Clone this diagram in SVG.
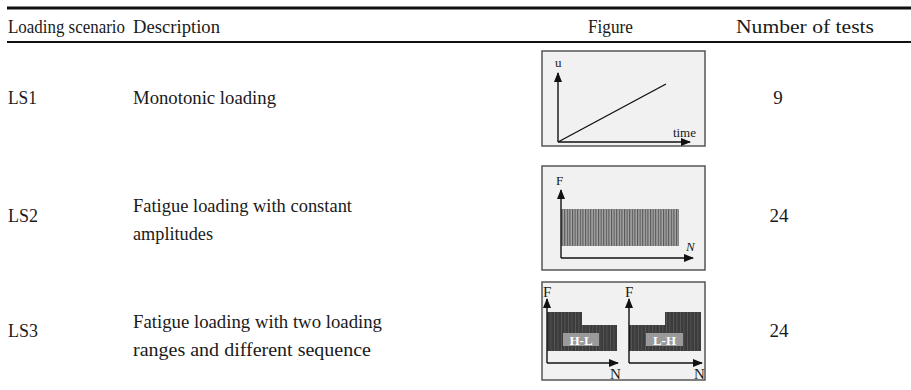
<svg xmlns="http://www.w3.org/2000/svg" width="911" height="390" viewBox="0 0 911 390">
<defs>
<style>
text{font-family:"Liberation Serif","Times New Roman","DejaVu Serif",serif}
.t{font-size:19px;fill:#1a1a1a}
.s{font-size:13px;fill:#1a1a1a}
.m{font-size:15px;fill:#1a1a1a}
.box{fill:#f0f1f0;stroke:#555;stroke-width:1.5}
.ax{stroke:#111;stroke-width:1.4;fill:none}
.lab{font-size:13px;font-weight:bold;fill:#fff}
</style>
<marker id="ah" viewBox="0 0 10 8" refX="9" refY="4" markerWidth="10" markerHeight="8" markerUnits="userSpaceOnUse" orient="auto">
<path d="M0,0 L10,4 L0,8 Z" fill="#111"/>
</marker>
<pattern id="fat" width="2.6" height="10" patternUnits="userSpaceOnUse">
<rect width="2.6" height="10" fill="#a6a6a6"/>
<rect width="1.1" height="10" fill="#555"/>
</pattern>
<pattern id="fat2" width="7" height="10" patternUnits="userSpaceOnUse">
<rect width="7" height="10" fill="#3c3c3c"/>
<rect x="1" width="1" height="10" fill="#555"/>
<rect x="4" width="1.5" height="10" fill="#4a4a4a"/>
</pattern>
</defs>
<rect width="911" height="390" fill="#fff"/>
<line x1="7" y1="8" x2="911" y2="8" stroke="#111" stroke-width="3"/>
<line x1="7" y1="42" x2="911" y2="42" stroke="#111" stroke-width="2"/>
<g id="header">
<text class="t" x="8" y="33" textLength="117" lengthAdjust="spacingAndGlyphs">Loading scenario</text>
<text class="t" x="133" y="33" textLength="87" lengthAdjust="spacingAndGlyphs">Description</text>
<text class="t" x="588" y="33" textLength="45" lengthAdjust="spacingAndGlyphs">Figure</text>
<text class="t" x="736" y="33" textLength="138" lengthAdjust="spacingAndGlyphs">Number of tests</text>
</g>
<g id="row1">
<text class="t" x="8" y="104" textLength="29" lengthAdjust="spacingAndGlyphs">LS1</text>
<text class="t" x="133" y="104" textLength="143" lengthAdjust="spacingAndGlyphs">Monotonic loading</text>
<text class="t" x="778" y="104" text-anchor="middle">9</text>
<g id="fig1">
<rect class="box" x="542" y="51" width="163" height="95"/>
<line class="ax" x1="558" y1="142" x2="558" y2="73" marker-end="url(#ah)"/>
<line class="ax" x1="558" y1="142" x2="690" y2="142" marker-end="url(#ah)"/>
<line class="ax" x1="558" y1="142" x2="666" y2="84"/>
<text class="s" x="555" y="67">u</text>
<text class="s" x="696" y="137" text-anchor="end">time</text>
</g>
</g>
<g id="row2">
<text class="t" x="8" y="222" textLength="30" lengthAdjust="spacingAndGlyphs">LS2</text>
<text class="t" x="133" y="212" textLength="219" lengthAdjust="spacingAndGlyphs">Fatigue loading with constant</text>
<text class="t" x="133" y="240" textLength="80" lengthAdjust="spacingAndGlyphs">amplitudes</text>
<text class="t" x="779" y="222" text-anchor="middle">24</text>
<g id="fig2">
<rect class="box" x="542" y="166" width="163" height="104"/>
<rect x="561" y="209" width="118" height="37" fill="url(#fat)"/>
<line class="ax" x1="561" y1="258" x2="561" y2="190" marker-end="url(#ah)"/>
<line class="ax" x1="561" y1="258" x2="693" y2="258" marker-end="url(#ah)"/>
<text class="s" x="556" y="185">F</text>
<text class="s" x="686" y="251" font-style="italic">N</text>
</g>
</g>
<g id="row3">
<text class="t" x="8" y="337" textLength="30" lengthAdjust="spacingAndGlyphs">LS3</text>
<text class="t" x="133" y="328" textLength="249" lengthAdjust="spacingAndGlyphs">Fatigue loading with two loading</text>
<text class="t" x="133" y="356" textLength="238" lengthAdjust="spacingAndGlyphs">ranges and different sequence</text>
<text class="t" x="779" y="337" text-anchor="middle">24</text>
<g id="fig3">
<rect class="box" x="542" y="282" width="163" height="98"/>
<path d="M547,312 H582 V325 H617 V351 H547 Z" fill="url(#fat2)"/>
<rect x="563" y="333" width="36" height="13" fill="#9a9a9a"/>
<text class="lab" x="581" y="344.5" text-anchor="middle">H-L</text>
<line class="ax" x1="547" y1="363" x2="547" y2="299" marker-end="url(#ah)"/>
<line class="ax" x1="547" y1="363" x2="618" y2="363" marker-end="url(#ah)"/>
<text class="m" x="543" y="297">F</text>
<text class="m" x="610" y="379">N</text>
<path d="M629,325 H665 V312 H701 V351 H629 Z" fill="url(#fat2)"/>
<rect x="646" y="333" width="37" height="13" fill="#9a9a9a"/>
<text class="lab" x="664.5" y="344.5" text-anchor="middle">L-H</text>
<line class="ax" x1="629" y1="363" x2="629" y2="299" marker-end="url(#ah)"/>
<line class="ax" x1="629" y1="363" x2="702" y2="363" marker-end="url(#ah)"/>
<text class="m" x="625" y="297">F</text>
<text class="m" x="694" y="379">N</text>
</g>
</g>
</svg>
